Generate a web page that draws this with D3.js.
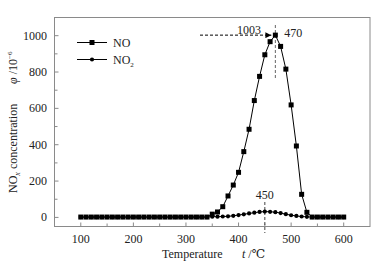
<!DOCTYPE html>
<html>
<head>
<meta charset="utf-8">
<script src="https://cdn.jsdelivr.net/npm/d3@7"></script>
<style>
  body { margin: 0; background: #fff; }
  svg { display: block; font-family: "Liberation Serif", "DejaVu Serif", serif; }
</style>
</head>
<body>
<svg id="chart" width="383" height="266"></svg>
<script>
// temperatures, every 10 degrees
const temps = d3.range(100, 601, 10);

// NO concentration (10^-6)
const noVals = [
  2, 2, 2, 2, 2, 2, 2, 2, 2, 2,        // 100-190
  2, 2, 2, 2, 2, 2, 2, 2, 2, 2,        // 200-290
  2, 2, 2, 2, 2, 18, 30, 59, 118, 178, // 300-390
  248, 362, 485, 643, 776, 895, 967, 1003, 941, 816, // 400-490
  619, 393, 127, 28, 2, 2, 2, 2, 2, 2, // 500-590
  2                                    // 600
];

// NO2 concentration (10^-6)
const no2Vals = [
  2, 2, 2, 2, 2, 2, 2, 2, 2, 2,
  2, 2, 2, 2, 2, 2, 2, 2, 2, 2,
  2, 2, 2, 2, 2, 4, 4, 5, 6, 9,
  13, 17, 22, 26, 30, 32, 31, 29, 24, 18,
  12, 8, 5, 3, 2, 2, 2, 2, 2, 2,
  2
];

const xTicks = [100, 200, 300, 400, 500, 600];
const xMinor = [150, 250, 350, 450, 550];
const yTicks = [0, 200, 400, 600, 800, 1000];
const yMinor = [100, 300, 500, 700, 900];

const peakNO = {t: 470, v: 1003};
const peakNO2 = {t: 450};

const svg = d3.select('#chart');
const margin = {left: 54.5, right: 13, top: 17.5, bottom: 39.5};
const width = 383, height = 266;
const frameColor = '#8a8a8a';

const x = d3.scaleLinear().domain([50, 650]).range([margin.left, width - margin.right]);
const y = d3.scaleLinear().domain([-50, 1100]).range([height - margin.bottom, margin.top]);

// frame
svg.append('rect')
  .attr('x', margin.left).attr('y', margin.top)
  .attr('width', width - margin.right - margin.left)
  .attr('height', height - margin.bottom - margin.top)
  .attr('fill', 'none').attr('stroke', frameColor).attr('stroke-width', 1);

// x ticks (inward)
const gx = svg.append('g').attr('transform', `translate(0,${height - margin.bottom})`);
gx.selectAll('line.major').data(xTicks).join('line')
  .attr('x1', d => x(d)).attr('x2', d => x(d))
  .attr('y1', 0).attr('y2', -4)
  .attr('stroke', frameColor);
gx.selectAll('line.minor').data(xMinor).join('line')
  .attr('x1', d => x(d)).attr('x2', d => x(d))
  .attr('y1', 0).attr('y2', -3)
  .attr('stroke', frameColor);
gx.selectAll('text').data(xTicks).join('text')
  .attr('x', d => x(d)).attr('y', 16)
  .attr('text-anchor', 'middle')
  .attr('font-size', 12).attr('fill', '#222')
  .text(d => d);

// y ticks (inward)
const gy = svg.append('g').attr('transform', `translate(${margin.left},0)`);
gy.selectAll('line.major').data(yTicks).join('line')
  .attr('y1', d => y(d)).attr('y2', d => y(d))
  .attr('x1', 0).attr('x2', 4)
  .attr('stroke', frameColor);
gy.selectAll('line.minor').data(yMinor).join('line')
  .attr('y1', d => y(d)).attr('y2', d => y(d))
  .attr('x1', 0).attr('x2', 3)
  .attr('stroke', frameColor);
gy.selectAll('text').data(yTicks).join('text')
  .attr('x', -7.5).attr('y', d => y(d) + 4)
  .attr('text-anchor', 'end')
  .attr('font-size', 12).attr('fill', '#222')
  .text(d => d);

// axis titles
const xl = svg.append('text').attr('y', 258).attr('font-size', 12).attr('fill', '#222');
xl.append('tspan').attr('x', 162).text('Temperature');
xl.append('tspan').attr('x', 242).attr('font-style', 'italic').text('t');
xl.append('tspan').text(' /\u2103');

const yl = svg.append('text')
  .attr('transform', 'translate(17,193) rotate(-90)')
  .attr('font-size', 12).attr('fill', '#222');
yl.append('tspan').text('NO');
yl.append('tspan').attr('font-style', 'italic').attr('font-size', 8).attr('dy', 3).text('x');
yl.append('tspan').attr('dy', -3).text(' concentration');

const yl2 = svg.append('text')
  .attr('transform', 'translate(17,84) rotate(-90)')
  .attr('font-size', 12).attr('fill', '#222');
yl2.append('tspan').attr('font-style', 'italic').text('\u03c6');
yl2.append('tspan').text(' /10');
yl2.append('tspan').attr('font-size', 7).attr('dy', -5).text('\u22126');

// annotation: dashed guides
svg.append('line')
  .attr('x1', x(470)).attr('x2', x(470))
  .attr('y1', 25).attr('y2', 78)
  .attr('stroke', '#666').attr('stroke-dasharray', '3,2');
svg.append('line')
  .attr('x1', x(450)).attr('x2', x(450))
  .attr('y1', 202).attr('y2', 233)
  .attr('stroke', '#444').attr('stroke-dasharray', '3,2');

svg.append('defs').append('marker')
  .attr('id', 'arrow').attr('viewBox', '0 0 10 10')
  .attr('refX', 10).attr('refY', 5)
  .attr('markerWidth', 8).attr('markerHeight', 6)
  .attr('markerUnits', 'userSpaceOnUse')
  .attr('orient', 'auto')
  .append('path').attr('d', 'M0,0L10,5L0,10z').attr('fill', '#000');

svg.append('line')
  .attr('x1', 200).attr('x2', x(peakNO.t) - 4)
  .attr('y1', y(peakNO.v)).attr('y2', y(peakNO.v))
  .attr('stroke', '#000').attr('stroke-dasharray', '3,2')
  .attr('marker-end', 'url(#arrow)');

svg.append('text')
  .attr('x', 249).attr('y', 34)
  .attr('text-anchor', 'middle').attr('font-size', 12).attr('fill', '#222')
  .text(peakNO.v);
svg.append('text')
  .attr('x', x(peakNO.t) + 9).attr('y', 37)
  .attr('font-size', 12).attr('fill', '#222')
  .text(peakNO.t);
svg.append('text')
  .attr('x', x(peakNO2.t)).attr('y', 199)
  .attr('text-anchor', 'middle').attr('font-size', 12).attr('fill', '#222')
  .text(peakNO2.t);

// series
const line = d3.line().x(d => x(d[0])).y(d => y(d[1]));
const noData = temps.map((t, i) => [t, noVals[i]]);
const no2Data = temps.map((t, i) => [t, no2Vals[i]]);

svg.append('path').datum(no2Data)
  .attr('d', line).attr('fill', 'none').attr('stroke', '#000').attr('stroke-width', 1);
svg.append('g').selectAll('circle').data(no2Data).join('circle')
  .attr('cx', d => x(d[0])).attr('cy', d => y(d[1])).attr('r', 2.1).attr('fill', '#000');

svg.append('path').datum(noData)
  .attr('d', line).attr('fill', 'none').attr('stroke', '#000').attr('stroke-width', 1);
svg.append('g').selectAll('rect').data(noData).join('rect')
  .attr('x', d => x(d[0]) - 2.5).attr('y', d => y(d[1]) - 2.5)
  .attr('width', 5).attr('height', 5).attr('fill', '#000');

// legend
const legend = svg.append('g');
legend.append('line').attr('x1', 77).attr('x2', 107).attr('y1', 42.5).attr('y2', 42.5).attr('stroke', '#000');
legend.append('rect').attr('x', 89.5).attr('y', 40).attr('width', 5).attr('height', 5).attr('fill', '#000');
legend.append('text').attr('x', 113).attr('y', 47).attr('font-size', 12).attr('fill', '#222').text('NO');

legend.append('line').attr('x1', 77).attr('x2', 107).attr('y1', 59.5).attr('y2', 59.5).attr('stroke', '#000');
legend.append('circle').attr('cx', 92).attr('cy', 59.5).attr('r', 2.1).attr('fill', '#000');
const l2 = legend.append('text').attr('x', 113).attr('y', 64).attr('font-size', 12).attr('fill', '#222');
l2.append('tspan').text('NO');
l2.append('tspan').attr('font-size', 7).attr('dy', 3).text('2');
</script>
</body>
</html>
